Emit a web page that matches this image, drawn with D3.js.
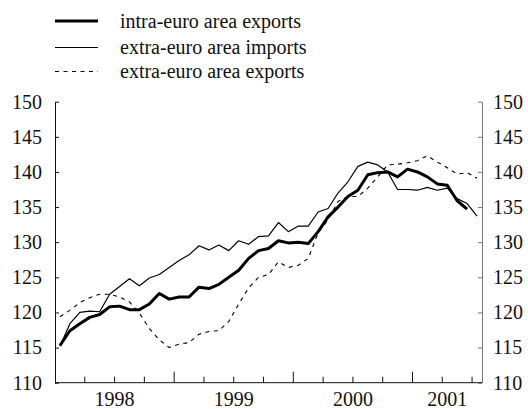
<!DOCTYPE html>
<html>
<head>
  <meta charset="utf-8">
  <script src="https://d3js.org/d3.v7.min.js"></script>
  <style>
    body { margin: 0; background: #fff; }
    text { font-family: "Liberation Serif", "Times New Roman", serif; fill: #111; }
  </style>
</head>
<body>
<script>

  // monthly index values, January 1998 = month 0
  var intraExports = [115.3, 117.4, 118.4, 119.3, 119.7, 120.8, 120.9, 120.4, 120.4, 121.2, 122.7, 121.9,
                      122.2, 122.2, 123.6, 123.4, 124.0, 125.0, 126.0, 127.7, 128.8, 129.1, 130.2, 129.9,
                      130.0, 129.8, 131.5, 133.6, 135.0, 136.5, 137.4, 139.6, 139.9, 140.0, 139.3, 140.4,
                      140.0, 139.3, 138.3, 138.1, 135.9, 134.7];
  var extraImports = [115.2, 118.4, 120.0, 120.2, 120.1, 122.6, 123.7, 124.8, 123.8, 124.9, 125.4, 126.4,
                      127.4, 128.2, 129.5, 128.9, 129.6, 128.8, 130.2, 129.7, 130.8, 130.9, 132.8, 131.5,
                      132.3, 132.3, 134.3, 134.8, 137.0, 138.6, 140.8, 141.4, 141.0, 140.0, 137.5, 137.5,
                      137.4, 137.8, 137.4, 137.7, 136.2, 135.5, 133.7];
  var extraExports = [119.4, 120.3, 121.4, 122.1, 122.6, 122.6, 122.2, 121.5, 119.9, 117.7, 116.1, 115.0,
                      115.5, 115.7, 116.9, 117.3, 117.4, 118.7, 121.2, 123.5, 125.0, 125.4, 127.2, 126.4,
                      126.7, 127.7, 131.3, 133.2, 135.8, 136.5, 136.5, 137.7, 139.3, 141.0, 141.1, 141.3,
                      141.6, 142.3, 141.4, 140.6, 139.7, 139.9, 139.1];

  var seriesNames = ["intra-euro area exports", "extra-euro area imports", "extra-euro area exports"];
  var years = ["1998", "1999", "2000", "2001"];
  var yTicks = [110, 115, 120, 125, 130, 135, 140, 145, 150];
  var monthsShown = 43; // Jan 1998 .. Jul 2001

  var width = 528, height = 409;

  var svg = d3.select("body").append("svg")
      .attr("width", width)
      .attr("height", height);

  var x = d3.scaleLinear().domain([0, monthsShown]).range([55, 482]);
  var y = d3.scaleLinear().domain([110, 150]).range([382.7, 101.7]);

  // y axes, ticks pointing inward
  var leftAxis = svg.append("g")
      .attr("transform", "translate(55,0)")
      .call(d3.axisLeft(y).tickValues(yTicks).tickSize(-4).tickSizeOuter(0).tickPadding(13));
  var rightAxis = svg.append("g")
      .attr("transform", "translate(482,0)")
      .call(d3.axisRight(y).tickValues(yTicks).tickSize(-4).tickSizeOuter(0).tickPadding(11));

  [leftAxis, rightAxis].forEach(function(g){
    g.selectAll("text").style("font-size", "20px").style("font-family", "'Liberation Serif', serif");
  });
  leftAxis.selectAll("path, line").attr("stroke", "#111");
  rightAxis.selectAll("path, line").attr("stroke", "#777");

  // bottom axis: quarterly minor ticks, yearly major ticks
  var quarterTicks = d3.range(3, monthsShown, 3).filter(function(m){ return m % 12 != 0; });
  var yearTicks = d3.range(12, monthsShown, 12);

  var bottom = svg.append("g").attr("transform", "translate(0,382.7)");
  bottom.append("line")
      .attr("x1", x(0)).attr("x2", x(monthsShown))
      .attr("stroke", "#111");
  bottom.selectAll(".minor")
      .data(quarterTicks)
      .enter().append("line")
      .attr("class", "minor")
      .attr("x1", function(d){ return x(d); })
      .attr("x2", function(d){ return x(d); })
      .attr("y1", 0).attr("y2", -6)
      .attr("stroke", "#111");
  bottom.selectAll(".major")
      .data(yearTicks)
      .enter().append("line")
      .attr("class", "major")
      .attr("x1", function(d){ return x(d); })
      .attr("x2", function(d){ return x(d); })
      .attr("y1", 0).attr("y2", -11)
      .attr("stroke", "#111");

  // year labels centred in their span
  bottom.selectAll(".year")
      .data(years)
      .enter().append("text")
      .attr("class", "year")
      .attr("x", function(d, i){
        var a = i * 12, b = Math.min((i + 1) * 12, monthsShown);
        return x((a + b) / 2);
      })
      .attr("y", 23.5)
      .attr("text-anchor", "middle")
      .style("font-size", "20px")
      .text(function(d){ return d; });

  var line = d3.line()
      .x(function(d, i){ return x(i + 0.5); })
      .y(function(d){ return y(d); });

  var styles = [
    { data: intraExports, width: 3, dash: null },
    { data: extraImports, width: 1.2, dash: null },
    { data: extraExports, width: 1.1, dash: "4,4.5" }
  ];

  svg.selectAll(".series")
      .data(styles)
      .enter().append("path")
      .attr("class", "series")
      .attr("d", function(d){ return line(d.data); })
      .attr("fill", "none")
      .attr("stroke", "#000")
      .attr("stroke-width", function(d){ return d.width; })
      .attr("stroke-linejoin", "round")
      .attr("stroke-dasharray", function(d){ return d.dash; });

  // legend
  var legendY = [21, 47.5, 71.5];
  var legend = svg.selectAll(".legend")
      .data(styles)
      .enter().append("g")
      .attr("class", "legend")
      .attr("transform", function(d, i){ return "translate(55," + legendY[i] + ")"; });

  legend.append("line")
      .attr("x1", 0).attr("x2", 43)
      .attr("stroke", "#000")
      .attr("stroke-width", function(d){ return d.width; })
      .attr("stroke-dasharray", function(d){ return d.dash; });

  legend.append("text")
      .attr("x", 65)
      .attr("y", 6.5)
      .style("font-size", "20px")
      .text(function(d, i){ return seriesNames[i]; });

</script>
</body>
</html>
